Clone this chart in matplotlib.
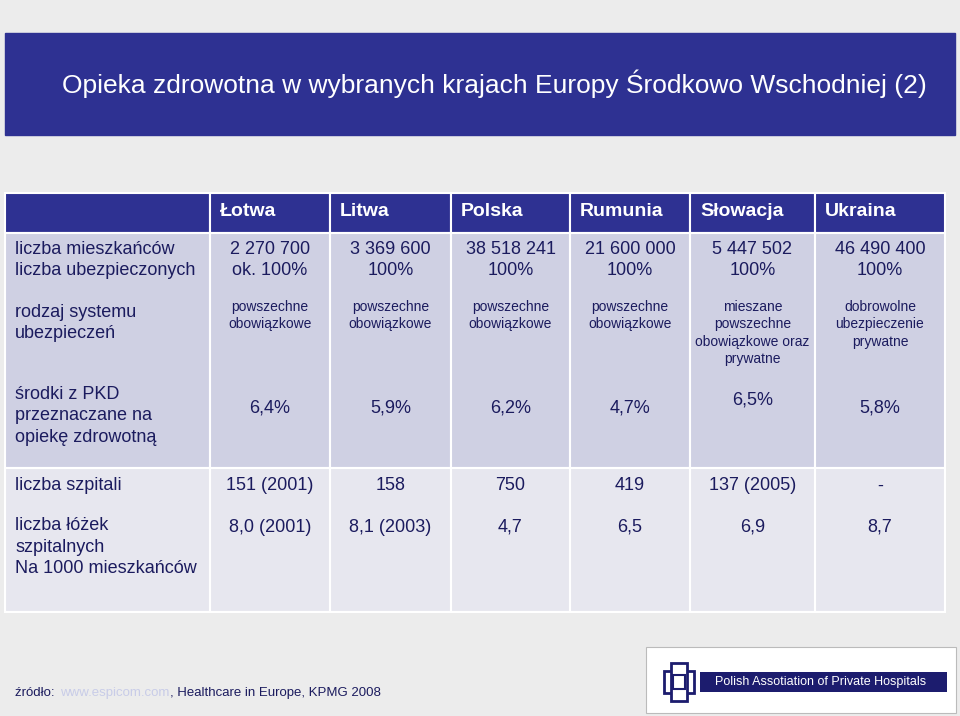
import matplotlib.pyplot as plt
from matplotlib.patches import Rectangle

countries = ['Łotwa', 'Litwa', 'Polska', 'Rumunia', 'Słowacja', 'Ukraina']
population = ['2 270 700', '3 369 600', '38 518 241', '21 600 000', '5 447 502', '46 490 400']
insured = ['ok. 100%', '100%', '100%', '100%', '100%', '100%']
system = ['powszechne\nobowiązkowe', 'powszechne\nobowiązkowe', 'powszechne\nobowiązkowe',
          'powszechne\nobowiązkowe', 'mieszane\npowszechne\nobowiązkowe oraz\nprywatne',
          'dobrowolne\nubezpieczenie\nprywatne']
gdp_share = ['6,4%', '5,9%', '6,2%', '4,7%', '6,5%', '5,8%']
hospitals = ['151 (2001)', '158', '750', '419', '137 (2005)', '-']
beds = ['8,0 (2001)', '8,1 (2003)', '4,7', '6,5', '6,9', '8,7']

navy = '#2e3192'
txt = '#1b1b5e'
plt.rcParams['font.family'] = 'Liberation Sans'

fig = plt.figure(figsize=(9.6, 7.16), dpi=100)
fig.patch.set_facecolor('#ececec')
ax = fig.add_axes([0, 0, 1, 1])
ax.set_xlim(0, 960)
ax.set_ylim(716, 0)
ax.axis('off')

# title band
ax.add_patch(Rectangle((5, 33), 950, 102, color=navy))
ax.text(62, 84, 'Opieka zdrowotna w wybranych krajach Europy Środkowo Wschodniej (2)',
        color='white', fontsize=19, va='center')

cols = [5, 210, 330, 451, 570, 690, 815, 945]
rows = [193, 233, 468, 612]
for i in range(7):
    w = cols[i+1] - cols[i]
    ax.add_patch(Rectangle((cols[i], rows[0]), w, rows[1]-rows[0], fc=navy, ec='white', lw=1.5))
    ax.add_patch(Rectangle((cols[i], rows[1]), w, rows[2]-rows[1], fc='#cfd0e3', ec='white', lw=1.5))
    ax.add_patch(Rectangle((cols[i], rows[2]), w, rows[3]-rows[2], fc='#e7e7ef', ec='white', lw=1.5))

# row labels
lab_kw = dict(color=txt, fontsize=13, va='center', ha='left', linespacing=1.35)
ax.text(15, 260, 'liczba mieszkańców\nliczba ubezpieczonych', **lab_kw)
ax.text(15, 323, 'rodzaj systemu\nubezpieczeń', **lab_kw)
ax.text(15, 416, 'środki z PKD\nprzeznaczane na\nopiekę zdrowotną', **lab_kw)
ax.text(15, 486, 'liczba szpitali', **lab_kw)
ax.text(15, 547, 'liczba łóżek\nszpitalnych\nNa 1000 mieszkańców', **lab_kw)

for i, c in enumerate(countries):
    x0 = cols[i+1]
    xc = (cols[i+1] + cols[i+2]) / 2
    ax.text(x0 + 10, 211, c, color='white', fontsize=14, fontweight='bold', va='center')
    ax.text(xc, 260, population[i] + '\n' + insured[i], color=txt, fontsize=13,
            ha='center', va='center', linespacing=1.35)
    ax.text(xc, 300, system[i], color=txt, fontsize=10, ha='center', va='top',
            linespacing=1.3, fontstretch='condensed')
    ax.text(xc, 400 if i == 4 else 408, gdp_share[i], color=txt, fontsize=13, ha='center', va='center')
    ax.text(xc, 486, hospitals[i], color=txt, fontsize=13, ha='center', va='center')
    ax.text(xc, 527, beds[i], color=txt, fontsize=13, ha='center', va='center')

# source
ax.text(15, 693, 'źródło: ', color=txt, fontsize=9.5, va='center')
ax.text(60, 693, 'www.espicom.com', color='#c8cce8', fontsize=9.5, va='center')
ax.text(170, 693, ', Healthcare in Europe, KPMG 2008', color=txt, fontsize=9.5, va='center')

# logo box
ax.add_patch(Rectangle((646, 647), 310, 66, fc='white', ec='#bbbbbb', lw=0.8))
ax.add_patch(Rectangle((700, 672), 247, 20, fc='#1c1c6e'))
ax.text(715, 682, 'Polish Assotiation of Private Hospitals', color='white', fontsize=9, va='center')
ax.add_patch(Rectangle((664, 671), 30, 22, fc='white', ec='#1c1c6e', lw=2))
ax.add_patch(Rectangle((671, 663), 16, 38, fc='white', ec='#1c1c6e', lw=2))
ax.add_patch(Rectangle((673, 675), 12, 14, fc='white', ec='#1c1c6e', lw=1.5))

fig.savefig('out.png', dpi=100, facecolor=fig.get_facecolor())
